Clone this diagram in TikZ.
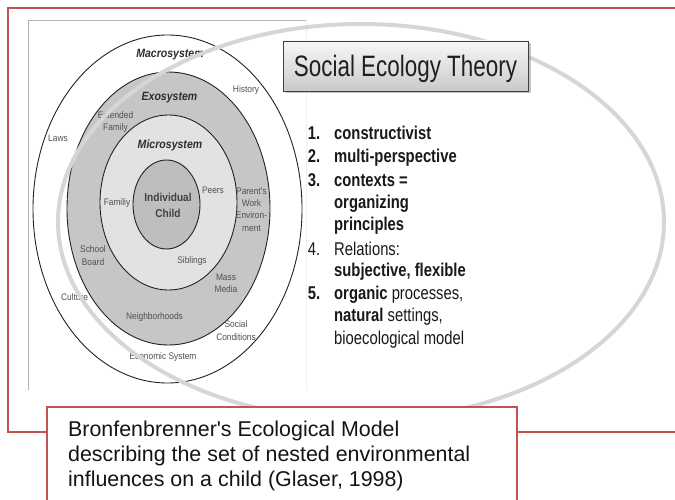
\documentclass[tikz,border=0pt]{standalone}
\usepackage{fontspec}
\setmainfont{Liberation Sans}
\newfontfamily\dgfont[FakeStretch=0.88]{Liberation Sans}
\newfontfamily\lstfont[FakeStretch=0.8]{Liberation Sans}
\newfontfamily\ttlfont[FakeStretch=0.76]{Liberation Sans}
\font\aposCap="Liberation Sans" at 21.4pt
\font\aposLbl="Liberation Sans" at 9.5pt
\usetikzlibrary{shadows}
\definecolor{frameRed}{RGB}{196,82,80}
\definecolor{exoFill}{RGB}{198,198,198}
\definecolor{microFill}{RGB}{226,226,226}
\definecolor{childFill}{RGB}{190,190,190}
\definecolor{ringLine}{RGB}{35,35,35}
\definecolor{lblGray}{RGB}{80,80,80}
\definecolor{sysGray}{RGB}{45,45,45}
\definecolor{bigArc}{RGB}{214,214,214}
\definecolor{listText}{RGB}{25,25,25}
\tikzset{
  lbl/.style={font=\dgfont\fontsize{9.5}{12.3}\selectfont, text=lblGray, align=center, inner sep=0pt},
  sysname/.style={font=\dgfont\bfseries\itshape\fontsize{12}{14}\selectfont, text=sysGray, inner sep=0pt},
  childlbl/.style={font=\dgfont\bfseries\fontsize{11.5}{16}\selectfont, text=sysGray!90, align=center, inner sep=0pt},
  lst/.style={font=\lstfont\fontsize{18.5}{22}\selectfont, text=listText, anchor=base west, inner sep=0pt},
  ring/.style={draw=ringLine, line width=0.9pt},
}
\begin{document}
\begin{tikzpicture}[x=1pt,y=-1pt]
\useasboundingbox (0,0) rectangle (675,500);
\fill[white] (0,0) rectangle (675,500);

% embedded diagram frame
\draw[gray!60, line width=0.8pt] (28,390) -- (28,20.5) -- (306,20.5);
\draw[gray!12, line width=0.8pt] (306,20.5) -- (306,390);

% nested systems
\draw[ring, fill=white] (167.5,209) ellipse [x radius=134.5, y radius=174];
\draw[ring, fill=exoFill] (168.5,208.5) ellipse [x radius=101.5, y radius=136.5];
\draw[ring, fill=microFill] (168.5,202.5) ellipse [x radius=68.5, y radius=87.5];
\draw[ring, fill=childFill] (166.5,204.5) ellipse [x radius=33.5, y radius=44.5];

% labels
\node[sysname] (macro) at (170,55) {Macrosystem};
\node[sysname] (exo) at (169.5,98) {Exosystem};
\node[sysname] (micro) at (170,145) {Microsystem};
\node[childlbl] (child) at (168,205) {Individual\\Child};
\node[lbl] (history) at (246,90) {History};
\node[lbl] (extfam) at (115.5,122) {Extended\\Family};
\node[lbl] (laws) at (58,138) {Laws};
\node[lbl] (peers) at (213,190) {Peers};
\node[lbl] (parents) at (251.5,209.5) {Parent{\aposLbl\char"27}s\\Work\\Environ-\\ment};
\node[lbl] (family) at (117,203) {Familiy};
\node[lbl] (school) at (93,255.5) {School\\Board};
\node[lbl] (siblings) at (192,261) {Siblings};
\node[lbl] (mass) at (226,283) {Mass\\Media};
\node[lbl] (culture) at (74.5,297) {Culture};
\node[lbl] (neigh) at (154.5,317) {Neighborhoods};
\node[lbl] (social) at (236,330.5) {Social\\Conditions};
\node[lbl] (econ) at (163,357) {Economic System};

% big grey ellipse
\draw[bigArc, line width=4pt] (361,222) ellipse [x radius=303, y radius=198];

% red frame
\draw[frameRed, line width=1.6pt] (8,8) rectangle (720,432);

% title box
\node[draw=black!75, line width=0.8pt, top color=gray!6, bottom color=gray!42,
      drop shadow={shadow xshift=2.5pt, shadow yshift=-2.5pt, opacity=0.45},
      minimum width=245pt, minimum height=50pt, inner sep=0pt,
      text height=27pt, text depth=6.2pt,
      font=\ttlfont\fontsize{29.5}{32}\selectfont, text=black!88] (title) at (405.5,66) {Social Ecology Theory};

% list
\node[lst] (n1) at (307.7,140) {\textbf{1.}};
\node[lst] (t1) at (334,140) {\textbf{constructivist}};
\node[lst] (n2) at (307.7,162.7) {\textbf{2.}};
\node[lst] (t2) at (334,162.7) {\textbf{multi-perspective}};
\node[lst] (n3) at (307.7,186) {\textbf{3.}};
\node[lst] (t3a) at (334,186) {\textbf{contexts =}};
\node[lst] (t3b) at (334,208) {\textbf{organizing}};
\node[lst] (t3c) at (334,230) {\textbf{principles}};
\node[lst] (n4) at (307.7,255) {4.};
\node[lst] (t4a) at (334,255) {Relations:};
\node[lst] (t4b) at (334,276) {\textbf{subjective, flexible}};
\node[lst] (n5) at (307.7,299) {\textbf{5.}};
\node[lst] (t5a) at (334,299) {\textbf{organic} processes,};
\node[lst] (t5b) at (334,321) {\textbf{natural} settings,};
\node[lst] (t5c) at (334,344) {bioecological model};

% caption box
\draw[frameRed, line width=1.6pt, fill=white] (47,407) rectangle (517,520);
\node[anchor=north west, inner sep=0pt, align=left, text=black!92,
      font=\fontsize{21.4}{25}\selectfont] (caption) at (68,420.3)
  {Bronfenbrenner{\aposCap\char"27}s Ecological Model\\describing the set of nested environmental\\influences on a child (Glaser, 1998)};
\end{tikzpicture}
\end{document}
